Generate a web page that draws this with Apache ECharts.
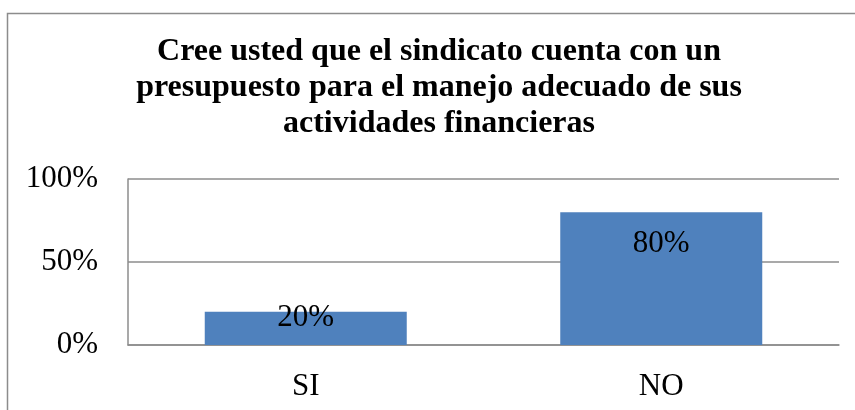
<!DOCTYPE html>
<html>
<head>
<meta charset="utf-8">
<script src="https://cdn.jsdelivr.net/npm/echarts@6/dist/echarts.min.js"></script>
<style>
  html, body { margin: 0; padding: 0; background: #fff; }
  #chart { width: 855px; height: 410px; }
</style>
</head>
<body>
<div id="chart"></div>
<script>
var categories = ['SI', 'NO'];
var values = [20, 80];
var yTicks = [0, 50, 100];
var titleLines = [
    'Cree usted que el sindicato cuenta con un',
    'presupuesto para el manejo adecuado de sus',
    'actividades financieras'
];

var myChart = echarts.init(document.getElementById('chart'));

// label offsets (Excel places the small bar's label across its top edge)
var labelDist = [-9, 16];

var option = {
    animation: false,
    title: {
        text: titleLines.join('\n'),
        left: 434,
        top: 29,
        textAlign: 'center',
        textStyle: {
            fontFamily: 'Liberation Serif',
            fontWeight: 'bold',
            fontSize: 32,
            lineHeight: 36,
            color: '#000'
        }
    },
    graphic: [{
        type: 'rect',
        shape: { x: 7.5, y: 13.5, width: 900, height: 500 },
        style: { fill: 'none', stroke: '#8c8c8c', lineWidth: 1.5 },
        silent: true
    }],
    grid: { left: 128, right: 16, top: 179, bottom: 65 },
    xAxis: {
        type: 'category',
        data: categories,
        axisLine: { lineStyle: { color: '#8c8c8c', width: 1.5 } },
        axisTick: { show: false },
        axisLabel: {
            margin: 26,
            fontFamily: 'Liberation Serif',
            fontSize: 31,
            color: '#000'
        }
    },
    yAxis: {
        type: 'value',
        min: yTicks[0],
        max: yTicks[yTicks.length - 1],
        interval: yTicks[1] - yTicks[0],
        axisLine: { show: true, lineStyle: { color: '#8c8c8c', width: 1.5 } },
        axisTick: { show: false },
        splitLine: { lineStyle: { color: '#8c8c8c', width: 1.5 } },
        axisLabel: {
            margin: 30,
            formatter: '{value}%',
            fontFamily: 'Liberation Serif',
            fontSize: 31,
            color: '#000'
        }
    },
    series: [{
        type: 'bar',
        barWidth: 202,
        itemStyle: { color: '#4f81bd' },
        data: values.map(function (v, i) {
            return {
                value: v,
                label: { distance: labelDist[i] }
            };
        }),
        label: {
            show: true,
            position: 'insideTop',
            formatter: '{c}%',
            fontFamily: 'Liberation Serif',
            fontSize: 31,
            color: '#000'
        }
    }]
};

myChart.setOption(option);
</script>
</body>
</html>
